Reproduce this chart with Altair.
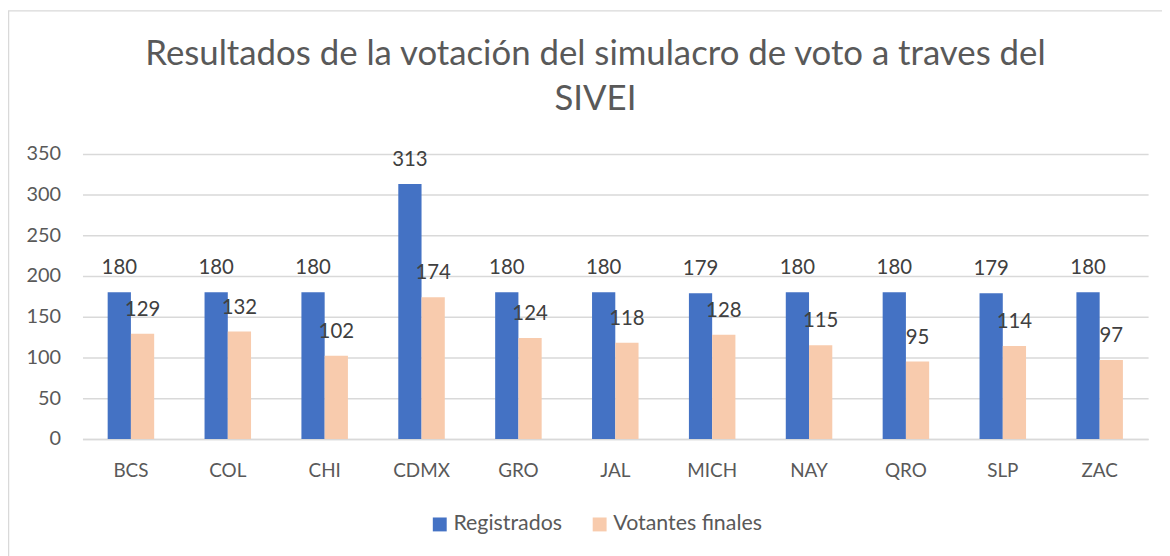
import altair as alt
import pandas as pd

estados = ["BCS", "COL", "CHI", "CDMX", "GRO", "JAL", "MICH", "NAY", "QRO", "SLP", "ZAC"]
registrados = [180, 180, 180, 313, 180, 180, 179, 180, 180, 179, 180]
votantes = [129, 132, 102, 174, 124, 118, 128, 115, 95, 114, 97]
series = ["Registrados", "Votantes finales"]
colores = ["#4472C4", "#F8CBAD"]

rows = []
for e, r, v in zip(estados, registrados, votantes):
    rows.append({"estado": e, "serie": series[0], "valor": r})
    rows.append({"estado": e, "serie": series[1], "valor": v})
df = pd.DataFrame(rows)

FONT = "Lato"
W, H = 1073, 287

x_enc = alt.X("estado:N", sort=estados, title=None,
              scale=alt.Scale(paddingInner=0.52, paddingOuter=0.26),
              axis=alt.Axis(labelAngle=0, labelFontSize=19, labelColor="#595959",
                            labelFont=FONT, labelPadding=23, ticks=False,
                            domainColor="#D9D9D9", domainWidth=1.5))
y_enc = alt.Y("valor:Q", title=None,
              scale=alt.Scale(domain=[0, 350]),
              axis=alt.Axis(values=[0, 50, 100, 150, 200, 250, 300, 350],
                            labelFontSize=20, labelColor="#595959", labelFont=FONT,
                            labelPadding=22, ticks=False, domain=False,
                            gridColor="#D9D9D9", gridWidth=1.5))
color_enc = alt.Color("serie:N", scale=alt.Scale(domain=series, range=colores),
                      legend=alt.Legend(title=None, orient="none", direction="horizontal",
                                        legendX=349, legendY=362, symbolType="square",
                                        symbolSize=196, symbolStrokeWidth=0,
                                        labelFontSize=21.5, labelColor="#595959",
                                        labelFont=FONT, columnPadding=27,
                                        labelOffset=3))

border = alt.Chart(pd.DataFrame({"b": [0]})).mark_rect(
    filled=False, stroke="#D9D9D9", strokeWidth=1.5
).encode(x=alt.value(-74.5), x2=alt.value(W + 60), y=alt.value(-144), y2=alt.value(H + 200))

bars = alt.Chart(df).mark_bar().encode(
    x=x_enc, y=y_enc, color=color_enc,
    xOffset=alt.XOffset("serie:N", sort=series),
)

labels = alt.Chart(df).mark_text(
    fontSize=20.5, color="#404040", font=FONT, baseline="alphabetic", dy=-18
).encode(
    x=alt.X("estado:N", sort=estados),
    y="valor:Q",
    xOffset=alt.XOffset("serie:N", sort=series),
    text="valor:Q",
)

chart = alt.layer(border, bars, labels).properties(
    width=W, height=H,
    background="white",
    title=alt.TitleParams(
        text=["Resultados de la votación del simulacro de voto a traves del", "SIVEI"],
        fontSize=35, font=FONT, fontWeight="normal", color="#595959",
        anchor="middle", dx=-20, offset=0, dy=108, lineHeight=46,
    ),
    autosize=alt.AutoSizeParams(type="none"),
    padding={"left": 75, "top": 145, "right": 14, "bottom": 116},
).configure_view(strokeWidth=0, stroke="transparent")

chart.save("out.html", embed_options={"renderer": "svg", "actions": False})
